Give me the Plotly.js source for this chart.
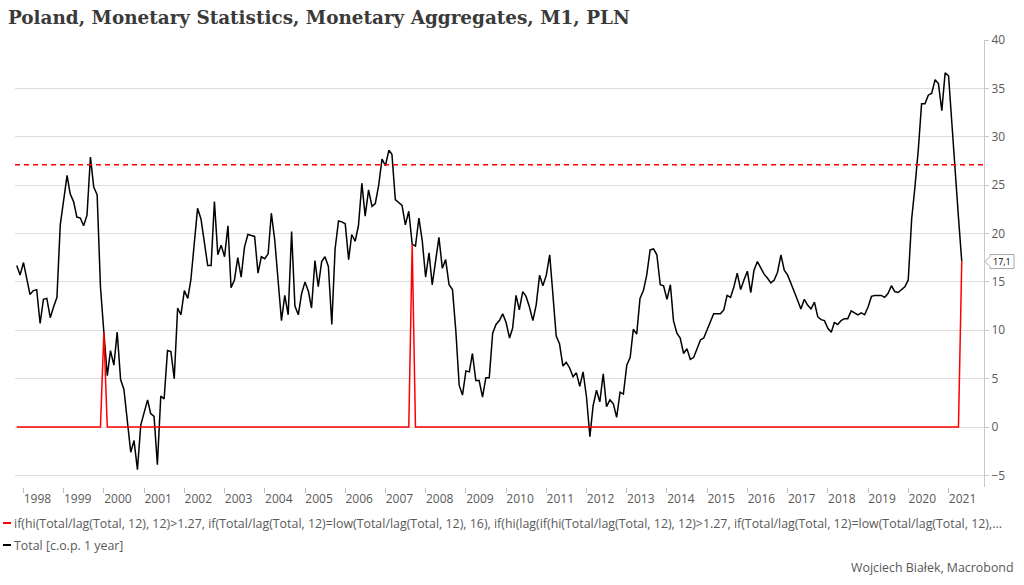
<!DOCTYPE html>
<html>
<head>
<meta charset="utf-8">
<script src="https://cdn.plot.ly/plotly-3.0.1.min.js"></script>
<style>html,body{margin:0;padding:0;background:#fff;}#chart{width:1024px;height:585px;}</style>
</head>
<body>
<div id="chart"></div>
<script>
// Monthly M1 y/y growth (%), first value = Nov 1997
const y1997 = [16.7, 15.7];
const y1998 = [17.0, 15.2, 13.7, 14.1, 14.2, 10.7, 13.2, 13.3, 11.3, 12.4, 13.4, 20.9];
const y1999 = [23.4, 26.0, 24.1, 23.3, 21.7, 21.6, 20.8, 21.9, 27.9, 24.8, 24.0, 14.5];
const y2000 = [9.8, 5.3, 7.9, 6.4, 9.8, 4.9, 3.9, 0.7, -2.6, -1.4, -4.4, 0.2];
const y2001 = [1.4, 2.8, 1.4, 1.1, -3.9, 3.2, 2.9, 7.9, 7.8, 5.0, 12.3, 11.6];
const y2002 = [14.1, 13.3, 15.2, 19.0, 22.6, 21.5, 19.1, 16.7, 16.7, 23.3, 17.8, 18.8];
const y2003 = [17.6, 20.8, 14.4, 15.2, 17.5, 15.5, 18.6, 19.9, 19.8, 19.7, 15.9, 17.6];
const y2004 = [17.4, 17.9, 22.1, 19.3, 15.2, 11.0, 13.6, 11.6, 20.2, 12.5, 11.6, 13.8];
const y2005 = [15.0, 14.0, 12.3, 17.2, 14.5, 17.1, 17.6, 16.6, 10.6, 18.4, 21.3, 21.2];
const y2006 = [21.0, 17.3, 19.9, 19.2, 20.8, 25.2, 21.8, 24.5, 22.8, 23.1, 25.0, 27.7];
const y2007 = [27.0, 28.6, 28.2, 23.5, 23.2, 22.9, 20.9, 22.3, 18.9, 18.7, 21.6, 19.3];
const y2008 = [15.5, 18.0, 14.7, 17.2, 19.6, 16.4, 17.3, 14.7, 14.2, 10.0, 4.3, 3.3];
const y2009 = [5.8, 5.7, 7.6, 4.8, 4.8, 3.1, 5.1, 5.1, 9.7, 10.6, 11.0, 11.7];
const y2010 = [10.8, 9.2, 10.2, 13.6, 12.1, 14.0, 13.5, 12.4, 11.0, 12.6, 15.7, 14.6];
const y2011 = [15.7, 17.8, 13.8, 9.4, 8.6, 6.3, 6.7, 6.1, 5.2, 5.6, 4.2, 5.7];
const y2012 = [3.1, -1.0, 2.2, 3.8, 2.6, 5.5, 2.1, 2.8, 2.4, 1.0, 3.6, 3.4];
const y2013 = [6.4, 7.2, 10.1, 9.6, 13.3, 14.1, 15.7, 18.3, 18.4, 17.8, 14.7, 14.6];
const y2014 = [13.2, 14.7, 11.0, 9.7, 9.2, 7.6, 8.1, 7.0, 7.2, 8.1, 9.0, 9.2];
const y2015 = [10.0, 10.9, 11.7, 11.7, 11.7, 12.1, 13.6, 13.4, 14.5, 15.9, 14.2, 15.2];
const y2016 = [16.1, 13.9, 16.2, 17.1, 16.5, 15.8, 15.4, 14.9, 15.2, 16.0, 17.8, 16.2];
const y2017 = [15.7, 14.9, 14.0, 13.1, 12.2, 13.2, 12.6, 12.2, 12.9, 11.4, 11.1, 11.0];
const y2018 = [10.2, 9.8, 10.8, 10.6, 11.0, 11.2, 11.2, 12.0, 11.8, 11.6, 11.8, 11.6];
const y2019 = [12.4, 13.5, 13.6, 13.6, 13.6, 13.4, 13.8, 14.6, 14.0, 13.9, 14.2, 14.5];
const y2020 = [15.2, 21.5, 24.7, 28.6, 33.4, 33.4, 34.3, 34.5, 35.9, 35.5, 32.7, 36.6];
const y2021 = [36.3, 31.0, 26.6, 21.7, 17.1];

// Signal series (red): vertices
const signalDates  = ['1997-11-01', '1999-12-01', '2000-01-01', '2000-02-01', '2007-08-01', '2007-09-01', '2007-10-01', '2021-04-01', '2021-05-01'];
const signalValues = [0, 0, 9.8, 0, 0, 18.9, 0, 0, 17.1];

const threshold = 27.1;
const lastLabel = '17,1';
const years = ['1998','1999','2000','2001','2002','2003','2004','2005','2006','2007','2008','2009','2010','2011','2012','2013','2014','2015','2016','2017','2018','2019','2020','2021'];

const titleText = 'Poland, Monetary Statistics, Monetary Aggregates, M1, PLN';
const redName = 'if(hi(Total/lag(Total, 12), 12)>1.27, if(Total/lag(Total, 12)=low(Total/lag(Total, 12), 16), if(hi(lag(if(hi(Total/lag(Total, 12), 12)>1.27, if(Total/lag(Total, 12)=low(Total/lag(Total, 12),...';
const blackName = 'Total [c.o.p. 1 year]';
const sourceText = 'Wojciech Białek, Macrobond';

const total = [].concat(y1997, y1998, y1999, y2000, y2001, y2002, y2003, y2004, y2005, y2006, y2007, y2008, y2009, y2010, y2011, y2012, y2013, y2014, y2015, y2016, y2017, y2018, y2019, y2020, y2021);
const dates = [];
for (let i = 0; i < total.length; i++) {
  const m = 10 + i; // Nov 1997 = month index 10 of 1997
  const yr = 1997 + Math.floor(m / 12);
  const mo = (m % 12) + 1;
  dates.push(yr + '-' + String(mo).padStart(2, '0') + '-01');
}

// plot area in pixels
const L = 15, R = 40, T = 40, B = 98, W = 1024, H = 585;
const pw = W - L - R, ph = H - T - B;
const px = v => (v - L) / pw;
const py = v => (H - B - v) / ph;

const gray = '#595959';
const fontFam = 'Open Sans, sans-serif';

const traces = [
  {x: dates, y: total, type: 'scatter', mode: 'lines', name: blackName,
   line: {color: '#000000', width: 1.5}, showlegend: false, hoverinfo: 'x+y'},
  {x: signalDates, y: signalValues, type: 'scatter', mode: 'lines', name: redName,
   line: {color: '#ff0000', width: 1.5}, showlegend: false, hoverinfo: 'x+y'}
];

const layout = {
  width: W, height: H,
  margin: {l: L, r: R, t: T, b: B, pad: 0},
  paper_bgcolor: '#ffffff', plot_bgcolor: '#ffffff',
  showlegend: false,
  title: {text: '<b>' + titleText + '</b>', x: 8 / W, xanchor: 'left', xref: 'container',
          y: 1 - 18 / H, yanchor: 'middle', yref: 'container',
          font: {family: 'DejaVu Serif, serif', size: 18.4, color: '#3a3a3a'}},
  xaxis: {
    type: 'date', range: ['1997-10-16', '2021-11-19'],
    tickmode: 'array', tickvals: years.map(y => y + '-05-08'), ticktext: years,
    ticks: '', showgrid: false, zeroline: false, showline: false,
    ticklabelstandoff: 3,
    tickfont: {family: fontFam, size: 12, color: gray},
    minor: {tickmode: 'array', tickvals: years.map(y => y + '-01-01'), ticks: 'outside', ticklen: 5, tickcolor: '#bfbfbf', showgrid: false}
  },
  yaxis: {
    side: 'right', range: [-6.2, 40],
    tickmode: 'array', tickvals: [-5, 0, 5, 10, 15, 20, 25, 30, 35, 40],
    showgrid: true, gridcolor: '#dedede', gridwidth: 1, zeroline: false,
    showline: true, linecolor: '#c8c8c8', linewidth: 1,
    ticks: 'outside', ticklen: 4, tickcolor: '#c8c8c8',
    tickfont: {family: fontFam, size: 12, color: gray}
  },
  shapes: [
    {type: 'line', xref: 'paper', yref: 'y', x0: 0, x1: 1, y0: threshold, y1: threshold,
     line: {color: '#ff0000', width: 1.5, dash: '5px,4px'}},
    {type: 'line', xref: 'paper', yref: 'paper', x0: px(3), x1: px(11), y0: py(523), y1: py(523),
     line: {color: '#ff0000', width: 2}},
    {type: 'line', xref: 'paper', yref: 'paper', x0: px(3), x1: px(11), y0: py(545), y1: py(545),
     line: {color: '#000000', width: 2}},
    {type: 'path', xref: 'paper', yref: 'y', xsizemode: 'pixel', ysizemode: 'pixel', xanchor: 1, yanchor: signalValues[signalValues.length - 1],
     path: 'M1,0 L6,5 L6,7 L30,7 L30,-7 L6,-7 L6,-5 Z',
     fillcolor: '#ffffff', line: {color: '#a6a6a6', width: 1}}
  ],
  annotations: [
    {xref: 'paper', yref: 'paper', x: px(12), y: py(523), xanchor: 'left', yanchor: 'middle', showarrow: false,
     text: redName, font: {family: fontFam, size: 12.4, color: gray}},
    {xref: 'paper', yref: 'paper', x: px(12), y: py(545), xanchor: 'left', yanchor: 'middle', showarrow: false,
     text: blackName, font: {family: fontFam, size: 12.4, color: gray}},
    {xref: 'paper', yref: 'paper', x: px(1016), y: py(567), xanchor: 'right', yanchor: 'middle', showarrow: false,
     text: sourceText, font: {family: fontFam, size: 12.4, color: gray}},
    {xref: 'paper', yref: 'y', x: px(1002), y: signalValues[signalValues.length - 1], xanchor: 'center', yanchor: 'middle', showarrow: false,
     text: lastLabel, font: {family: fontFam, size: 9, color: '#000000'}}
  ]
};

Plotly.newPlot('chart', traces, layout, {staticPlot: true, displayModeBar: false});
</script>
</body>
</html>
